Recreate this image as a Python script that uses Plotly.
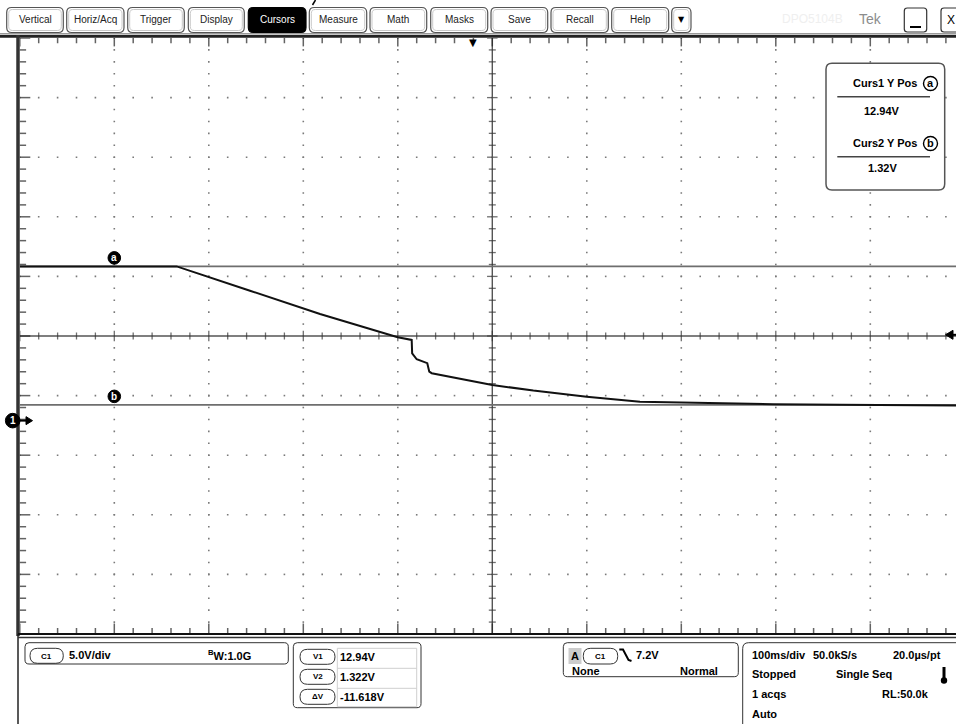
import numpy as np
import plotly.graph_objects as go

W, H = 956, 724

time_ms = [0, 166.0, 243.6, 317.7, 399.9, 414.7, 415.2, 420.0, 431.2, 433.3,
           435.9, 458.7, 500.0, 543.4, 599.9, 656.3, 726.9, 797.4, 867.9, 938.5, 1000]
volts = [12.94, 12.94, 10.9, 8.95, 7.0, 6.77, 5.65, 5.15, 4.82, 4.11,
         3.98, 3.61, 2.99, 2.52, 2.01, 1.59, 1.46, 1.38, 1.34, 1.29, 1.26]
cursor_volts = [12.94, 1.322]
cursor_names = ["a", "b"]
cursor_readout = ["12.94V", "1.32V"]
delta_labels = ["V1", "V2", "\u0394V"]
delta_values = ["12.94V", "1.322V", "-11.618V"]
trigger_level_v = 7.2
trigger_time_ms = 480
menu_labels = ["Vertical", "Horiz/Acq", "Trigger", "Display", "Cursors", "Measure",
               "Math", "Masks", "Save", "Recall", "Help", "\u25BC"]
active_menu = "Cursors"

# ---------------- scope geometry ----------------
MS_PER_DIV, V_PER_DIV = 100, 5
PX_DIV_X, PX_DIV_Y = 94.5, 59.6
LEFT_PX, TOP_PX, BOT_PX = 19.8, 38.0, 634.0
X_MAX = (W - LEFT_PX) / PX_DIV_X * MS_PER_DIV
V_BOT = -17.9
V_TOP = V_BOT + 10 * V_PER_DIV
V_CEN = V_BOT + 5 * V_PER_DIV
T_CEN = 5 * MS_PER_DIV

FONT = "Liberation Sans, Arial, sans-serif"


def X(px):
    return px / W


def Y(py):
    return 1 - py / H


def rrect_path(x0, y0, x1, y1, r):
    pts = [("M", x0 + r, y0), ("L", x1 - r, y0), ("Q", x1, y0, x1, y0 + r),
           ("L", x1, y1 - r), ("Q", x1, y1, x1 - r, y1), ("L", x0 + r, y1),
           ("Q", x0, y1, x0, y1 - r), ("L", x0, y0 + r), ("Q", x0, y0, x0 + r, y0)]
    s = ""
    for p in pts:
        c = p[0]
        coords = p[1:]
        s += c + " " + " ".join(
            f"{X(coords[i]):.5f},{Y(coords[i+1]):.5f}" for i in range(0, len(coords), 2)) + " "
    return s + "Z"


shapes = []
ann = []


def rbox(x0, y0, x1, y1, r, line="#444", width=1, fill=None, layer="above"):
    d = dict(type="path", path=rrect_path(x0, y0, x1, y1, r), xref="paper", yref="paper",
             line=dict(color=line, width=width), layer=layer)
    if fill:
        d["fillcolor"] = fill
    shapes.append(d)


def pline(x0, y0, x1, y1, color="#000", width=1):
    shapes.append(dict(type="line", xref="paper", yref="paper", x0=X(x0), y0=Y(y0),
                       x1=X(x1), y1=Y(y1), line=dict(color=color, width=width)))


def txt(x, y, s, size=11, bold=True, color="#000", anchor="left", family=FONT):
    ann.append(dict(x=X(x), y=Y(y), xref="paper", yref="paper", text=(f"<b>{s}</b>" if bold else s),
                    showarrow=False, xanchor=anchor, yanchor="middle",
                    font=dict(family=family, size=size, color=color)))


fig = go.Figure()

# ---------------- graticule ----------------
minor_t = np.arange(0, 10 * MS_PER_DIV + 1e-6, MS_PER_DIV / 5)
minor_v = V_BOT + np.arange(51) * V_PER_DIV / 5
major_t = np.arange(0, 11) * MS_PER_DIV
major_v = V_BOT + np.arange(11) * V_PER_DIV

gx, gy = [], []
for t in major_t[1:-1]:
    if abs(t - T_CEN) < 1e-6:
        continue
    gx += list(np.full(len(minor_v), t))
    gy += list(minor_v)
for v in major_v[1:-1]:
    if abs(v - V_CEN) < 1e-6:
        continue
    gx += list(minor_t)
    gy += list(np.full(len(minor_t), v))
fig.add_trace(go.Scatter(x=gx, y=gy, mode="markers", hoverinfo="skip",
                         marker=dict(symbol="square", size=1.6, color="#7a7a7a", line=dict(width=0))))

is_major_t = [abs((t / MS_PER_DIV) - round(t / MS_PER_DIV)) < 1e-6 for t in minor_t]
is_major_v = [abs(((v - V_BOT) / V_PER_DIV) - round((v - V_BOT) / V_PER_DIV)) < 1e-6 for v in minor_v]


def tick_trace(xs, ys, symbol, sizes, color="#333", width=1.3):
    fig.add_trace(go.Scatter(x=xs, y=ys, mode="markers", hoverinfo="skip", cliponaxis=True,
                             marker=dict(symbol=symbol, size=sizes, color=color,
                                         line=dict(color=color, width=width))))


# center crosshair ticks
tick_trace(list(minor_t), [V_CEN] * len(minor_t), "line-ns",
           [7.5 if m else 5 for m in is_major_t])
tick_trace([T_CEN] * len(minor_v), list(minor_v), "line-ew",
           [7.5 if m else 5 for m in is_major_v])
# border ticks (half clipped)
tick_trace([0] * len(minor_v), list(minor_v), "line-ew",
           [15 if m else 9 for m in is_major_v], color="#222", width=1.5)
tick_trace(list(minor_t), [V_TOP] * len(minor_t), "line-ns",
           [12 if m else 7.5 for m in is_major_t], color="#222", width=1.5)
tick_trace(list(minor_t), [V_BOT] * len(minor_t), "line-ns",
           [15 if m else 8.6 for m in is_major_t], color="#222", width=1.5)

# center lines
shapes.append(dict(type="line", xref="x", yref="y", x0=T_CEN, x1=T_CEN, y0=V_BOT, y1=V_TOP,
                   line=dict(color="#555", width=1.4), layer="below"))
shapes.append(dict(type="line", xref="x", yref="y", x0=0, x1=X_MAX, y0=V_CEN, y1=V_CEN,
                   line=dict(color="#555", width=1.4), layer="below"))

# cursors
for v in cursor_volts:
    shapes.append(dict(type="line", xref="x", yref="y", x0=0, x1=X_MAX, y0=v, y1=v,
                       line=dict(color="#6e6e6e", width=1.8), layer="below"))

# waveform
fig.add_trace(go.Scatter(x=time_ms, y=volts, mode="lines", hoverinfo="skip",
                         line=dict(color="#111", width=2)))

# cursor tags
for v, name in zip(cursor_volts, cursor_names):
    shapes.append(dict(type="circle", xref="x", yref="y", xsizemode="pixel", ysizemode="pixel",
                       xanchor=MS_PER_DIV, yanchor=v, x0=-6.3, x1=6.3, y0=2.2, y1=14.8,
                       fillcolor="#000", line=dict(color="#000", width=1)))
    ann.append(dict(x=MS_PER_DIV, y=v, xref="x", yref="y", yshift=8.5, text=f"<b>{name}</b>",
                    showarrow=False, xanchor="center", yanchor="middle",
                    font=dict(family=FONT, size=10, color="#fff")))

# ---------------- frame ----------------
pline(0, 33.5, W, 33.5, "#9a9a9a", 1)
pline(0, 36.3, W, 36.3, "#222", 3)
pline(18, 35, 18, BOT_PX + 2, "#333", 3.5)
pline(18, BOT_PX, 18, H, "#222", 1.5)
pline(18, BOT_PX, W, BOT_PX, "#111", 2)
pline(18, 637.5, W, 637.5, "#333", 1.5)

# ground marker "1" with arrow (anchored at 0 V)
shapes.append(dict(type="circle", xref="paper", yref="y", ysizemode="pixel", yanchor=0,
                   x0=X(12.7 - 7.3), x1=X(12.7 + 7.3), y0=-7.3, y1=7.3,
                   fillcolor="#000", line=dict(color="#000", width=1)))
shapes.append(dict(type="line", xref="paper", yref="y", ysizemode="pixel", yanchor=0,
                   x0=X(19), x1=X(27), y0=0, y1=0, line=dict(color="#000", width=2)))
shapes.append(dict(type="path", xref="paper", yref="y", ysizemode="pixel", yanchor=0,
                   path=f"M {X(26)},4 L {X(32.5)},0 L {X(26)},-4 Z",
                   fillcolor="#000", line=dict(color="#000", width=1)))
ann.append(dict(x=X(12.7), y=0, xref="paper", yref="y", text="<b>1</b>", showarrow=False,
                xanchor="center", yanchor="middle",
                font=dict(family=FONT, size=10, color="#fff")))

# trigger level arrow (anchored at trigger level)
shapes.append(dict(type="path", xref="paper", yref="y", ysizemode="pixel", yanchor=trigger_level_v,
                   path=f"M {X(945.5)},0 L {X(953)},4.5 L {X(953)},-4.5 Z",
                   fillcolor="#000", line=dict(color="#000", width=1)))
shapes.append(dict(type="line", xref="paper", yref="y", ysizemode="pixel", yanchor=trigger_level_v,
                   x0=X(950), x1=X(956), y0=0, y1=0, line=dict(color="#000", width=2)))
# trigger position marker
ann.append(dict(x=trigger_time_ms, y=Y(42), xref="x", yref="paper", text="\u25BC", showarrow=False,
                xanchor="center", yanchor="middle",
                font=dict(family="DejaVu Sans", size=10, color="#000")))

# ---------------- cursor readout box ----------------
rbox(826, 63.3, 944.7, 190, 6, line="#555", width=1.5, fill="#fff")
for i, (name, val) in enumerate(zip(cursor_names, cursor_readout)):
    yo = i * 60
    txt(850.5, 83.3 + yo, f"Curs{i+1} Y Pos", 11)
    shapes.append(dict(type="circle", xref="paper", yref="paper", x0=X(923.5), x1=X(937.5),
                       y0=Y(76.5 + yo), y1=Y(90.5 + yo), line=dict(color="#000", width=1.4)))
    txt(930.5, 83.3 + yo, name, 11, anchor="center")
    pline(837.3, 96.7 + yo, 930, 96.7 + yo, "#444", 1.5)
    txt(882, 111 + yo - (3 if i else 0), val, 11, anchor="center")

# ---------------- toolbar ----------------
btn_x = [(6.7, 63.3), (66.7, 124), (127.7, 184.3), (188.3, 244.3), (248.3, 306), (309.3, 366.7),
         (370, 426.7), (430.7, 487.7), (491, 547.7), (551, 608.3), (611.7, 668.7), (671.7, 691)]
for (x0, x1), lab in zip(btn_x, menu_labels):
    active = lab == active_menu
    rbox(x0, 7.5, x1, 32.5, 5, line="#555" if not active else "#000", width=1.2,
         fill="#000" if active else "#fff")
    if not active:
        rbox(x0 + 2, 9.5, x1 - 2, 30.5, 4, line="#c8c8c8", width=1)
    if lab == "\u25BC":
        txt((x0 + x1) / 2, 19.5, lab, 8, bold=False, anchor="center", family="DejaVu Sans")
    else:
        txt((x0 + x1) / 2, 19.5, lab, 10, bold=False, color="#fff" if active else "#222",
            anchor="center")
txt(812, 19, "DPO5104B", 12, bold=False, color="#efefef", anchor="center")
txt(870, 19, "Tek", 14, bold=False, color="#8c8c8c", anchor="center")
rbox(904.3, 8, 926.7, 32, 3, line="#333", width=1.2)
pline(910, 27, 921, 27, "#000", 2)
rbox(941, 8, 966, 32, 3, line="#333", width=1.2)
txt(950.5, 20, "X", 12, bold=False, anchor="center")
pline(315.5, 0, 312.5, 5, "#000", 1.5)

# ---------------- bottom status panel ----------------
# channel box
rbox(25, 642.7, 288.3, 664, 4, line="#333", width=1)
rbox(30, 648.3, 63.3, 663.3, 7.5, line="#333", width=1)
txt(46.6, 656, "C1", 8, anchor="center")
txt(67, 655, "5.0V/div", 11)
txt(206, 655, "<sup>B</sup>W:1.0G", 11)

# cursor delta box
rbox(293.3, 642.7, 421, 707.7, 4, line="#333", width=1)
pline(337.3, 648.3, 416.7, 648.3, "#cfcfcf", 1)
pline(337.3, 668.3, 416.7, 668.3, "#cfcfcf", 1)
pline(337.3, 688.3, 416.7, 688.3, "#cfcfcf", 1)
pline(337.3, 706.7, 416.7, 706.7, "#cfcfcf", 1)
pline(416.7, 648.3, 416.7, 706.7, "#cfcfcf", 1)
pline(337.3, 648.3, 337.3, 706.7, "#cfcfcf", 1)
for i, (lab, val) in enumerate(zip(delta_labels, delta_values)):
    y0 = 649.3 + i * 20
    rbox(300, y0, 335, y0 + 15, 7.5, line="#333", width=1)
    txt(317.5, y0 + 7.5, lab, 8, anchor="center")
    txt(337.5, y0 + 7.5, val, 11)

# trigger box
rbox(563.3, 642.7, 738.3, 676.7, 4, line="#333", width=1)
shapes.append(dict(type="rect", xref="paper", yref="paper", x0=X(568.5), x1=X(581.5),
                   y0=Y(664), y1=Y(648), fillcolor="#cccccc", line=dict(width=0)))
txt(575, 656, "A", 11, anchor="center")
rbox(583.3, 648.3, 617.7, 664, 7.5, line="#333", width=1)
txt(600.5, 656.2, "C1", 8, anchor="center")
shapes.append(dict(type="path", xref="paper", yref="paper",
                   path=f"M {X(619.3)},{Y(649.5)} L {X(623)},{Y(649.5)} L {X(628.5)},{Y(660)} L {X(631.5)},{Y(661)}",
                   line=dict(color="#000", width=2)))
txt(634, 655, f"{trigger_level_v}V", 11)
txt(570, 670.7, "None", 11)
txt(720, 670.7, "Normal", 11, anchor="right")

# timebase box
shapes.append(dict(type="path", xref="paper", yref="paper",
                   path=f"M {X(742.7)},{Y(H)} L {X(742.7)},{Y(648.7)} Q {X(742.7)},{Y(642.7)} {X(748.7)},{Y(642.7)} L {X(W)},{Y(642.7)}",
                   line=dict(color="#333", width=1)))
txt(750, 655, "100ms/div", 11)
txt(811, 655, "50.0kS/s", 11)
txt(942.5, 655, "20.0\u00b5s/pt", 11, anchor="right")
txt(750, 674.3, "Stopped", 11)
txt(833.5, 674.3, "Single Seq", 11)
pline(944, 667, 944, 680, "#000", 3)
shapes.append(dict(type="circle", xref="paper", yref="paper", x0=X(940.8), x1=X(947.2),
                   y0=Y(683.7), y1=Y(677.3), fillcolor="#000", line=dict(width=0)))
txt(750, 694.3, "1 acqs", 11)
txt(930.5, 694.3, "RL:50.0k", 11, anchor="right")
txt(750, 713.5, "Auto", 11)

fig.update_layout(
    width=W, height=H, margin=dict(l=0, r=0, t=0, b=0),
    paper_bgcolor="#fff", plot_bgcolor="#fff", showlegend=False,
    xaxis=dict(range=[0, X_MAX], domain=[X(LEFT_PX), 1], visible=False, fixedrange=True),
    yaxis=dict(range=[V_BOT, V_TOP], domain=[Y(BOT_PX), Y(TOP_PX)], visible=False, fixedrange=True),
    shapes=shapes, annotations=ann,
)
fig.write_html("out.html", config={"displayModeBar": False},
               post_script="document.body.style.margin='0';document.documentElement.style.overflow='hidden';")
